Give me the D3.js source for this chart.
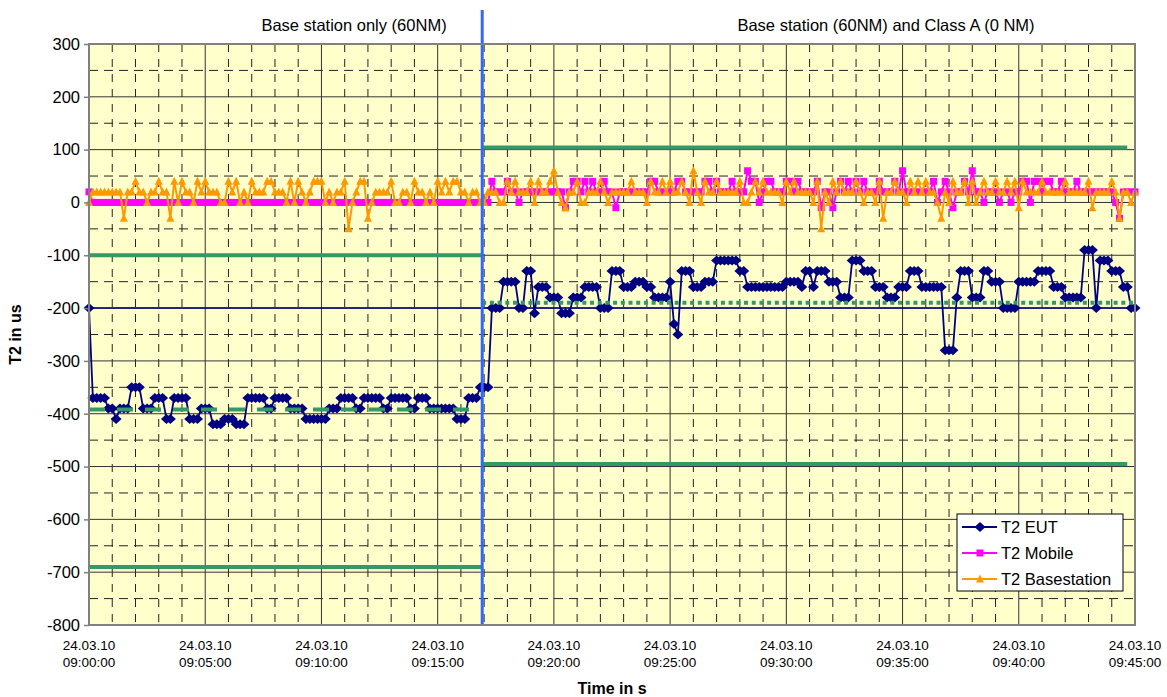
<!DOCTYPE html>
<html>
<head>
<meta charset="utf-8">
<script src="https://cdn.jsdelivr.net/npm/d3@7"></script>
<style>
  body { margin: 0; background: #fff; }
  text { font-family: Arial, "Liberation Sans", sans-serif; fill: #000; }
</style>
</head>
<body>
<svg id="chart" width="1167" height="697"></svg>
<script>
// samples every 10 s starting 24.03.10 09:00:00
const startTime = "2010-03-24 09:00:00";
const stepSeconds = 10;

const t2Eut = [
  -200,-370,-370,-370,-370,-390,-390,-410,-390,-390,
  -390,-350,-350,-350,-390,-390,-390,-370,-370,-370,
  -410,-410,-370,-370,-370,-370,-410,-410,-410,-390,
  -390,-390,-420,-420,-420,-410,-410,-410,-420,-420,
  -420,-370,-370,-370,-370,-370,-390,-390,-370,-370,
  -370,-370,-390,-390,-390,-390,-410,-410,-410,-410,
  -410,-410,-390,-390,-390,-370,-370,-370,-370,-390,
  -390,-370,-370,-370,-370,-370,-390,-390,-370,-370,
  -370,-370,-370,-390,-390,-370,-370,-370,-390,-390,
  -390,-390,-390,-390,-390,-410,-410,-410,-370,-370,
  -370,-350,-350,-350,-200,-200,-200,-150,-150,-150,
  -150,-200,-200,-130,-130,-210,-160,-160,-160,-180,
  -180,-180,-210,-210,-210,-180,-180,-180,-160,-160,
  -160,-160,-200,-200,-200,-130,-130,-130,-160,-160,
  -160,-150,-150,-150,-160,-160,-180,-180,-180,-180,
  -150,-230,-250,-130,-130,-130,-160,-160,-160,-150,
  -150,-150,-110,-110,-110,-110,-110,-110,-130,-130,
  -160,-160,-160,-160,-160,-160,-160,-160,-160,-160,
  -150,-150,-150,-150,-160,-130,-130,-160,-130,-130,
  -130,-150,-150,-150,-180,-180,-180,-110,-110,-110,
  -130,-130,-130,-160,-160,-160,-180,-180,-180,-160,
  -160,-160,-130,-130,-130,-160,-160,-160,-160,-160,
  -160,-280,-280,-280,-180,-130,-130,-130,-180,-180,
  -180,-130,-130,-150,-150,-150,-200,-200,-200,-200,
  -150,-150,-150,-150,-150,-130,-130,-130,-130,-160,
  -160,-160,-180,-180,-180,-180,-180,-90,-90,-90,
  -200,-110,-110,-110,-130,-130,-130,-160,-160,-200,
  -200
];

const t2Mobile = [
  20,0,0,0,0,0,0,0,0,0,
  0,0,0,0,0,0,0,0,0,0,
  0,0,0,0,0,0,0,0,0,0,
  0,0,0,0,0,0,0,0,0,0,
  0,0,0,0,0,0,0,0,0,0,
  0,0,0,0,0,0,0,0,0,0,
  0,0,0,0,0,0,0,0,0,0,
  0,0,0,0,0,0,0,0,0,0,
  0,0,0,0,0,0,0,0,0,0,
  0,0,0,0,0,0,0,0,0,0,
  0,0,0,0,40,20,20,20,40,20,
  20,0,20,20,20,20,20,20,20,20,
  20,20,20,-10,20,40,40,20,40,20,
  40,20,20,40,20,20,-10,20,20,20,
  20,20,20,20,20,40,40,20,20,20,
  20,20,40,40,20,20,20,20,20,40,
  40,20,40,20,20,20,40,20,20,20,
  60,40,40,0,20,40,40,20,20,20,
  40,40,20,40,20,20,20,20,40,-10,
  20,20,-10,20,40,20,40,20,40,20,
  40,20,20,20,40,20,20,20,40,20,
  60,20,20,20,20,20,20,20,40,0,
  20,40,20,-10,20,20,40,20,60,20,
  20,0,20,20,20,0,20,20,0,20,
  20,40,40,0,40,40,20,40,40,20,
  20,40,20,20,20,40,20,20,20,20,
  20,20,20,20,20,0,-30,20,20,20,
  20
];

const t2Basestation = [
  0,20,20,20,20,20,20,20,20,-30,
  20,20,40,20,20,0,20,20,40,20,
  20,-30,40,0,40,20,20,0,40,20,
  40,20,20,20,0,0,40,20,40,0,
  20,0,40,20,20,20,40,40,20,20,
  20,0,40,0,40,20,0,20,40,40,
  40,0,20,0,20,20,40,-50,0,20,
  40,40,-30,0,20,20,20,20,40,0,
  0,20,20,0,40,20,20,0,20,0,
  40,20,40,20,40,40,20,20,0,20,
  20,0,0,20,20,20,0,0,40,20,
  40,20,20,20,40,0,40,20,20,40,
  60,20,0,-10,20,20,40,0,0,20,
  20,20,40,20,0,20,20,20,20,20,
  40,20,20,20,0,40,20,20,40,20,
  40,20,20,40,20,0,60,20,0,40,
  20,20,40,20,20,20,20,20,40,0,
  0,20,40,20,40,20,20,20,20,0,
  40,20,40,20,20,20,20,0,40,-50,
  20,0,40,20,40,20,20,20,40,20,
  0,20,20,0,40,-30,20,20,40,20,
  20,0,40,20,40,20,40,20,20,0,
  -30,20,0,40,20,20,40,0,40,0,
  20,40,20,20,40,20,20,40,20,40,
  -10,40,20,20,20,20,40,20,20,20,
  20,20,40,20,20,20,20,20,40,-10,
  20,20,20,20,40,20,-30,20,20,0,
  20
];

const yTicks = [300, 200, 100, 0, -100, -200, -300, -400, -500, -600, -700, -800];
const xTickTimes = ["09:00:00", "09:05:00", "09:10:00", "09:15:00", "09:20:00",
                    "09:25:00", "09:30:00", "09:35:00", "09:40:00", "09:45:00"];
const xTickDate = "24.03.10";
const sectionLabels = ["Base station only (60NM)", "Base station (60NM) and Class A (0 NM)"];
const switchTime = "09:16:55";
const leftLimitEnd = "09:16:55";
const rightLimitEnd = "09:44:40";
const leftLimits = [-100, -690];
const leftMean = -392;
const rightLimits = [104, -495];
const rightMean = -190;
const eutTarget = -200;
const seriesNames = ["T2 EUT", "T2 Mobile", "T2 Basestation"];

const parse = d3.timeParse("%Y-%m-%d %H:%M:%S");
const at = s => parse("2010-03-24 " + s);
const t0 = parse(startTime);
const timeOf = i => d3.timeSecond.offset(t0, i * stepSeconds);

const dim = { width: 1167, height: 697, left: 89, right: 1135, top: 44, bottom: 625 };

const svg = d3.select("#chart");

const x = d3.scaleTime()
  .domain([at(xTickTimes[0]), at(xTickTimes[xTickTimes.length - 1])])
  .range([dim.left, dim.right]);
const y = d3.scaleLinear()
  .domain([-800, 300])
  .range([dim.bottom, dim.top]);

// plot background
svg.append("rect")
  .attr("x", dim.left).attr("y", dim.top)
  .attr("width", dim.right - dim.left).attr("height", dim.bottom - dim.top)
  .attr("fill", "#ffffcc");

// minor grid (dashed)
const grid = svg.append("g");
const minorY = yTicks.slice(1).map(v => v + 50);
grid.selectAll(".hminor").data(minorY).join("line")
  .attr("x1", dim.left).attr("x2", dim.right)
  .attr("y1", d => y(d)).attr("y2", d => y(d))
  .attr("stroke", "#222").attr("stroke-width", 1).attr("stroke-dasharray", "9,6");
const minorX = x.ticks(d3.timeMinute.every(1)).filter(d => d.getMinutes() % 5 !== 0);
grid.selectAll(".vminor").data(minorX).join("line")
  .attr("x1", d => x(d)).attr("x2", d => x(d))
  .attr("y1", dim.top).attr("y2", dim.bottom)
  .attr("stroke", "#222").attr("stroke-width", 1).attr("stroke-dasharray", "8,7");

// major grid (solid)
grid.selectAll(".hmajor").data(yTicks).join("line")
  .attr("x1", dim.left).attr("x2", dim.right)
  .attr("y1", d => y(d)).attr("y2", d => y(d))
  .attr("stroke", "#333").attr("stroke-width", 1);
grid.selectAll(".vmajor").data(xTickTimes).join("line")
  .attr("x1", d => x(at(d))).attr("x2", d => x(at(d)))
  .attr("y1", dim.top).attr("y2", dim.bottom)
  .attr("stroke", "#333").attr("stroke-width", 1);

// EUT target line at -200
svg.append("line")
  .attr("x1", x(at(xTickTimes[0]))).attr("x2", x(at(xTickTimes[xTickTimes.length - 1])))
  .attr("y1", y(eutTarget)).attr("y2", y(eutTarget))
  .attr("stroke", "#000080").attr("stroke-width", 1.5);

// series
const markers = {
  diamond: "M0,-5L5.5,0L0,5L-5.5,0Z",
  square: "M-3.5,-3.5H3.5V3.5H-3.5Z",
  triangle: "M0,-4.5L4,3.5L-4,3.5Z"
};
const series = [
  { name: seriesNames[0], values: t2Eut, color: "#000080", width: 1.8, marker: markers.diamond },
  { name: seriesNames[1], values: t2Mobile, color: "#ff00ff", width: 2, marker: markers.square },
  { name: seriesNames[2], values: t2Basestation, color: "#ff9900", width: 2, marker: markers.triangle }
];

const line = d3.line()
  .x((d, i) => x(timeOf(i)))
  .y(d => y(d));

series.forEach(s => {
  const g = svg.append("g");
  g.append("path")
    .attr("d", line(s.values))
    .attr("fill", "none")
    .attr("stroke", s.color)
    .attr("stroke-width", s.width);
  g.selectAll("path.m").data(s.values).join("path")
    .attr("class", "m")
    .attr("d", s.marker)
    .attr("transform", (d, i) => `translate(${x(timeOf(i))},${y(d)})`)
    .attr("fill", s.color);
});

// limit lines
const green = "#339966";
const limits = svg.append("g");
leftLimits.forEach(v => {
  limits.append("line")
    .attr("x1", x(at(xTickTimes[0]))).attr("x2", x(at(leftLimitEnd)))
    .attr("y1", y(v)).attr("y2", y(v))
    .attr("stroke", green).attr("stroke-width", 4);
});
limits.append("line")
  .attr("x1", x(at(xTickTimes[0]))).attr("x2", x(at(leftLimitEnd)))
  .attr("y1", y(leftMean)).attr("y2", y(leftMean))
  .attr("stroke", green).attr("stroke-width", 4).attr("stroke-dasharray", "16,12");
rightLimits.forEach(v => {
  limits.append("line")
    .attr("x1", x(at(switchTime))).attr("x2", x(at(rightLimitEnd)))
    .attr("y1", y(v)).attr("y2", y(v))
    .attr("stroke", green).attr("stroke-width", 4);
});
limits.append("line")
  .attr("x1", x(at(switchTime))).attr("x2", x(at(xTickTimes[xTickTimes.length - 1])))
  .attr("y1", y(rightMean)).attr("y2", y(rightMean))
  .attr("stroke", green).attr("stroke-width", 4).attr("stroke-dasharray", "4,3.7");

// switch marker
svg.append("line")
  .attr("x1", x(at(switchTime))).attr("x2", x(at(switchTime)))
  .attr("y1", 10).attr("y2", dim.bottom)
  .attr("stroke", "#3366ff").attr("stroke-width", 3);

// plot border
svg.append("rect")
  .attr("x", dim.left).attr("y", dim.top)
  .attr("width", dim.right - dim.left).attr("height", dim.bottom - dim.top)
  .attr("fill", "none").attr("stroke", "#808080").attr("stroke-width", 2);

// y axis
const yAxis = svg.append("g")
  .attr("transform", `translate(${dim.left},0)`)
  .call(d3.axisLeft(y).tickValues(yTicks).tickSize(5).tickPadding(4).tickFormat(d => String(d)));
yAxis.select(".domain").remove();
yAxis.selectAll(".tick line").attr("stroke", "#808080").attr("stroke-width", 1.5);
yAxis.selectAll(".tick text").style("font-size", "16.5px").attr("fill", "#000");

// x axis labels (two lines)
const xl = svg.append("g");
xTickTimes.forEach(t => {
  const txt = xl.append("text")
    .attr("x", x(at(t))).attr("y", 650)
    .attr("text-anchor", "middle")
    .style("font-size", "13.5px");
  txt.append("tspan").attr("x", x(at(t))).text(xTickDate);
  txt.append("tspan").attr("x", x(at(t))).attr("dy", 17).text(t);
});

// titles
svg.append("text")
  .attr("x", (dim.left + dim.right) / 2).attr("y", 694)
  .attr("text-anchor", "middle")
  .style("font-size", "16px").style("font-weight", "bold")
  .text("Time in s");
svg.append("text")
  .attr("transform", `translate(21,${(dim.top + dim.bottom) / 2}) rotate(-90)`)
  .attr("text-anchor", "middle")
  .style("font-size", "16px").style("font-weight", "bold")
  .text("T2 in us");

svg.append("text")
  .attr("x", 354).attr("y", 31).attr("text-anchor", "middle")
  .style("font-size", "16.5px").text(sectionLabels[0]);
svg.append("text")
  .attr("x", 886).attr("y", 31).attr("text-anchor", "middle")
  .style("font-size", "16.5px").text(sectionLabels[1]);

// legend
const legend = svg.append("g").attr("transform", "translate(957,514)");
legend.append("rect")
  .attr("width", 166).attr("height", 77)
  .attr("fill", "#fff").attr("stroke", "#000").attr("stroke-width", 1);
series.forEach((s, i) => {
  const row = legend.append("g").attr("transform", `translate(0,${13 + i * 26})`);
  row.append("line")
    .attr("x1", 5).attr("x2", 40)
    .attr("stroke", s.color).attr("stroke-width", s.width);
  row.append("path")
    .attr("d", s.marker)
    .attr("transform", "translate(23,0)")
    .attr("fill", s.color);
  row.append("text")
    .attr("x", 44).attr("y", 6)
    .style("font-size", "16.5px")
    .text(s.name);
});
</script>
</body>
</html>
